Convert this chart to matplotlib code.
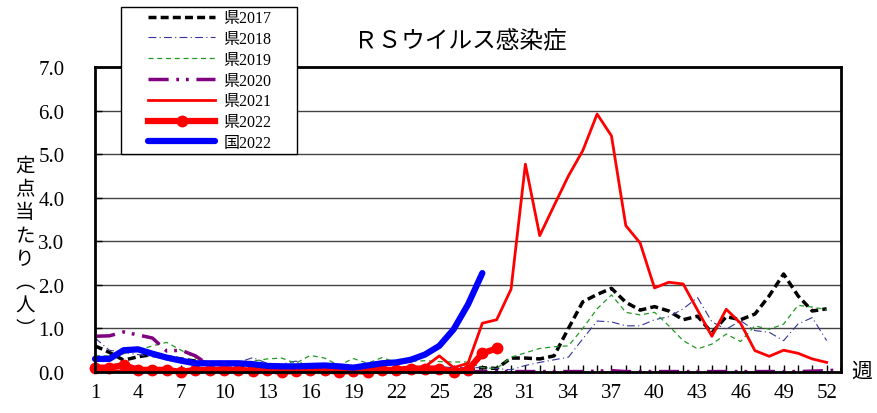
import matplotlib
matplotlib.use("Agg")
from matplotlib import pyplot as plt
from matplotlib.lines import Line2D
from matplotlib.legend_handler import HandlerLine2D

# weekly values (per sentinel)
weeks52 = list(range(1, 53))
weeks53 = list(range(1, 54))

ken2017 = [0.6, 0.45, 0.27, 0.35, 0.4, 0.35, 0.3, 0.25, 0.2, 0.18,
           0.15, 0.12, 0.1, 0.1, 0.1, 0.08, 0.08, 0.08, 0.07, 0.07,
           0.07, 0.06, 0.06, 0.06, 0.05, 0.05, 0.05, 0.1, 0.08, 0.32,
           0.32, 0.3, 0.37, 1.0, 1.61, 1.78, 1.92, 1.6, 1.42, 1.5,
           1.4, 1.2, 1.28, 0.9, 1.27, 1.2, 1.33, 1.75, 2.25, 1.75, 1.4, 1.45]
ken2018 = [0.78, 0.5, 0.45, 0.4, 0.35, 0.3, 0.28, 0.25, 0.22, 0.2,
           0.22, 0.33, 0.2, 0.18, 0.25, 0.15, 0.12, 0.12, 0.1, 0.12,
           0.1, 0.1, 0.1, 0.12, 0.12, 0.1, 0.1, 0.1, 0.08, 0.05,
           0.15, 0.22, 0.28, 0.34, 0.76, 1.17, 1.15, 1.06, 1.06, 1.2,
           1.27, 1.45, 1.71, 1.15, 0.98, 1.18, 0.95, 0.91, 0.72, 1.1, 1.25, 0.72]
ken2019 = [0.37, 0.37, 0.42, 0.5, 0.6, 0.68, 0.5, 0.32, 0.22, 0.22,
           0.2, 0.25, 0.3, 0.32, 0.2, 0.38, 0.32, 0.15, 0.31, 0.2,
           0.33, 0.22, 0.24, 0.26, 0.24, 0.23, 0.23, 0.1, 0.08, 0.34,
           0.44, 0.54, 0.58, 0.6, 1.0, 1.45, 1.77, 1.37, 1.31, 1.37,
           1.06, 0.72, 0.53, 0.64, 0.87, 0.7, 1.06, 0.98, 1.1, 1.53, 1.49, 1.43]
ken2020 = [0.82, 0.83, 0.92, 0.85, 0.78, 0.48, 0.5, 0.37, 0.15, 0.05,
           0.02, 0.02, 0.01, 0.01, 0.01, 0.01, 0.01, 0.01, 0.01, 0.01,
           0.01, 0.01, 0.01, 0.01, 0.01, 0.01, 0.01, 0.01, 0.01, 0.01,
           0.01, 0.01, 0.01, 0.01, 0.01, 0.02, 0.03, 0.01, 0.01, 0.01,
           0.01, 0.01, 0.01, 0.01, 0.01, 0.01, 0.01, 0.01, 0.01, 0.01,
           0.02, 0.03, 0.05]
ken2021 = [0.03, 0.03, 0.02, 0.02, 0.02, 0.02, 0.02, 0.02, 0.02, 0.02,
           0.02, 0.02, 0.02, 0.03, 0.05, 0.08, 0.1, 0.05, 0.05, 0.07,
           0.07, 0.07, 0.08, 0.12, 0.37, 0.1, 0.2, 1.12, 1.2, 1.9,
           4.77, 3.13, 3.82, 4.5, 5.08, 5.92, 5.42, 3.36, 2.96, 1.93,
           2.06, 2.02, 1.42, 0.82, 1.44, 1.12, 0.49, 0.36, 0.5, 0.43, 0.3, 0.22]
ken2022 = [0.1, 0.1, 0.16, 0.05, 0.05, 0.05, 0.0, 0.05, 0.05, 0.05,
           0.05, 0.03, 0.05, 0.0, 0.03, 0.05, 0.05, 0.0, 0.03, 0.0,
           0.05, 0.05, 0.08, 0.08, 0.08, 0.0, 0.05, 0.43, 0.54]
kuni2022 = [0.3, 0.3, 0.5, 0.52, 0.42, 0.33, 0.26, 0.2, 0.2, 0.2,
            0.2, 0.18, 0.14, 0.13, 0.13, 0.14, 0.15, 0.13, 0.1, 0.15,
            0.2, 0.22, 0.28, 0.4, 0.6, 0.98, 1.55, 2.27]

xtick_labels = list(range(1, 53, 3))

W, H = 877, 414
fig = plt.figure(figsize=(W / 100, H / 100), dpi=100)
ax = fig.add_axes([95 / W, 1 - 373 / H, (841 - 95) / W, (373 - 68) / H])

serif = ["Liberation Serif", "Noto Sans CJK JP"]
cjk = ["Noto Sans CJK JP", "DejaVu Sans"]

l17, = ax.plot(weeks52, ken2017, color="black", lw=2.5, dashes=(2.3, 1.2),
               label="県2017", clip_on=False)
l18, = ax.plot(weeks52, ken2018, color="#333399", lw=0.8, dashes=(7, 3, 1, 3),
               label="県2018", clip_on=False)
l19, = ax.plot(weeks52, ken2019, color="#229922", lw=0.9, dashes=(4, 3),
               label="県2019", clip_on=False)
l20, = ax.plot(weeks53, ken2020, color="#800080", lw=2.5,
               dashes=(5.8, 2.2, 0.8, 2.0, 0.8, 2.2), label="県2020", clip_on=False)
l21, = ax.plot(weeks52, ken2021, color="red", lw=2, label="県2021", clip_on=False)
l22, = ax.plot(range(1, len(ken2022) + 1), ken2022, color="red", lw=4.5,
               marker="o", markersize=7.5, label="県2022", clip_on=False)
lk, = ax.plot(range(1, len(kuni2022) + 1), kuni2022, color="blue", lw=4.5,
              solid_capstyle="round", label="国2022", clip_on=False)

ax.set_xlim(1, 53)
ax.set_ylim(0, 7)
ax.set_xticks(xtick_labels)
ax.set_xticks(weeks53, minor=True)
ax.set_yticks(range(0, 8))
ax.set_yticklabels(["%.1f" % v for v in range(0, 8)])
ax.tick_params(axis="x", which="both", direction="in", length=5, width=1,
               pad=8, labelsize=15)
ax.tick_params(axis="y", direction="in", length=5, width=1, pad=22, labelsize=15)
for lab in ax.get_xticklabels() + ax.get_yticklabels():
    lab.set_family(serif)
ax.yaxis.grid(True, color="#444444", lw=1)
ax.set_axisbelow(True)
for sp in ax.spines.values():
    sp.set_linewidth(2)

fig.text(460 / W, 1 - 42 / H, "ＲＳウイルス感染症", ha="center", va="center",
         fontsize=17, family=cjk)
fig.text(25 / W, 1 - 248 / H, "定\n点\n当\nた\nり\n︵\n人\n︶", ha="center",
         va="center", fontsize=14, family=cjk, linespacing=1.15)
fig.text(862 / W, 1 - 372 / H, "週", ha="center", va="center", fontsize=15,
         family=cjk)

handles = [l17, l18, l19, l20, l21, l22, lk]
leg = fig.legend(handles, [h.get_label() for h in handles], loc="upper left",
                 bbox_to_anchor=(121 / W, 1 - 152 / H, 176 / W, 144 / H),
                 mode="expand", borderaxespad=0, borderpad=0.2,
                 fancybox=False, edgecolor="black", framealpha=1,
                 prop={"family": serif, "size": 11.5}, handlelength=5.7,
                 handletextpad=0.5, labelspacing=0.3,
                 handler_map={Line2D: HandlerLine2D(xpad=1.5)})
leg.get_frame().set_linewidth(1)

fig.savefig("out.png", dpi=100)
